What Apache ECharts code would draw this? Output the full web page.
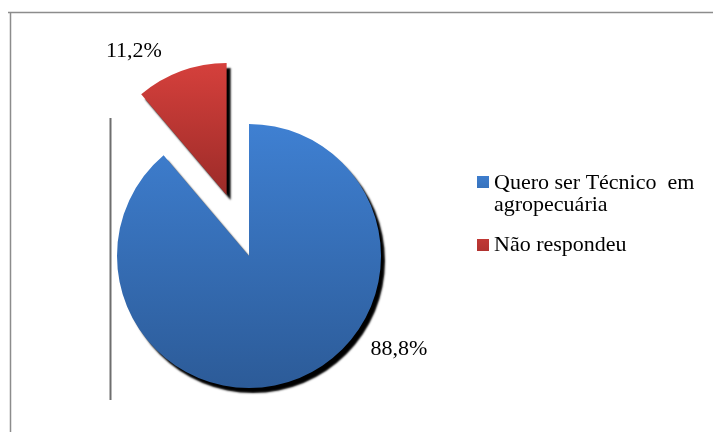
<!DOCTYPE html>
<html>
<head>
<meta charset="utf-8">
<script src="https://cdn.jsdelivr.net/npm/echarts@6/dist/echarts.min.js"></script>
<style>
  html, body { margin: 0; padding: 0; background: #ffffff; }
  #chart { width: 713px; height: 432px; }
</style>
</head>
<body>
<div id="chart"></div>
<script>
// Answers and their shares (percent)
var categories = ['Quero ser Técnico em agropecuária', 'Não respondeu'];
var values = [88.8, 11.2];

var fontFamily = '"Liberation Serif", "Times New Roman", serif';

function vGrad(top, bottom) {
  return new echarts.graphic.LinearGradient(0, 0, 0, 1, [
    { offset: 0, color: top },
    { offset: 1, color: bottom }
  ]);
}
var fills = [vGrad('#3f80d2', '#2c5b98'), vGrad('#d5403c', '#9c2b28')];

function fmtPct(v) {
  return v.toFixed(1).replace('.', ',') + '%';
}

// legend squares drawn inside a 12x44 box: one on the first line, one centred
var topSquare = 'path://M0,4L12,4L12,16L0,16Z M0,0 M12,44';
var midSquare = 'path://M0,16L12,16L12,28L0,28Z M0,0 M12,44';

var chart = echarts.init(document.getElementById('chart'), null, { renderer: 'canvas' });

chart.setOption({
  backgroundColor: '#ffffff',
  animation: false,
  graphic: [
    // frame lines
    { type: 'line', shape: { x1: 8, y1: 12.5, x2: 713, y2: 12.5 }, style: { stroke: '#8c8c8c', lineWidth: 1.5 } },
    { type: 'line', shape: { x1: 10.5, y1: 12, x2: 10.5, y2: 432 }, style: { stroke: '#8c8c8c', lineWidth: 1.5 } },
    // vertical rule left of the pie
    { type: 'line', shape: { x1: 110.5, y1: 118, x2: 110.5, y2: 400 }, style: { stroke: '#6e6e6e', lineWidth: 2 } }
  ],
  legend: {
    orient: 'vertical',
    left: 472,
    top: 167,
    itemWidth: 12,
    itemHeight: 44,
    itemGap: 7,
    selectedMode: false,
    data: [
      { name: categories[0], icon: topSquare },
      { name: categories[1], icon: midSquare }
    ],
    formatter: function (name) {
      return name.replace(' em ', '  em\n');
    },
    textStyle: {
      fontFamily: fontFamily,
      fontSize: 22,
      lineHeight: 22,
      color: '#000000'
    }
  },
  series: [{
    type: 'pie',
    center: [249, 256],
    radius: 132,
    startAngle: 90,
    clockwise: true,
    selectedMode: 'single',
    selectedOffset: 65,
    avoidLabelOverlap: false,
    itemStyle: {
      shadowColor: 'rgba(0,0,0,1)',
      shadowBlur: 2,
      shadowOffsetX: 4,
      shadowOffsetY: 5
    },
    emphasis: { disabled: true },
    label: {
      show: true,
      position: 'outside',
      formatter: function (p) { return fmtPct(p.value); },
      fontFamily: fontFamily,
      fontSize: 22,
      color: '#000000'
    },
    labelLine: { show: false },
    labelLayout: function (p) {
      if (p.dataIndex === 0) {
        return { x: 399, y: 349, align: 'center', verticalAlign: 'middle' };
      }
      return { dx: 21, dy: -6 };
    },
    data: categories.map(function (c, i) {
      return {
        name: c,
        value: values[i],
        selected: i === 1,
        itemStyle: { color: fills[i] }
      };
    })
  }]
});
</script>
</body>
</html>
